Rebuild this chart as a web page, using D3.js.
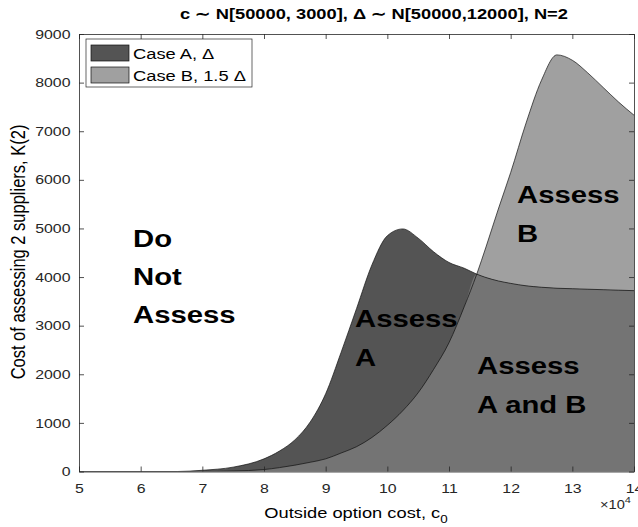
<!DOCTYPE html>
<html>
<head>
<meta charset="utf-8">
<script src="https://cdn.jsdelivr.net/npm/d3@7"></script>
<style>
  body { margin: 0; background: #fff; }
  text { font-family: "Liberation Sans", Arial, Helvetica, sans-serif; }
</style>
</head>
<body>
<div id="chart"></div>
<script>
// outside option cost c0 (common grid for both cases)
const costs = [50000, 60000, 66000, 70000, 75000, 80000, 82500, 85000, 87500, 90000, 92500, 95000, 97500,
               100000, 102500, 105000, 107500, 110000, 112500, 114500, 116000, 118000, 120000,
               122500, 125000, 127500, 130000, 132500, 135000, 137500, 140000];
// K(2) threshold, case A (Delta)
const caseA = [0, 0, 0, 25, 90, 260, 420, 650, 1020, 1600, 2450, 3350, 4250,
               4850, 4990, 4800, 4520, 4300, 4180, 4060, 3990, 3920, 3870,
               3820, 3790, 3770, 3760, 3750, 3740, 3730, 3720];
// K(2) threshold, case B (1.5 Delta)
const caseB = [0, 0, 0, 0, 10, 40, 80, 130, 190, 260, 380, 510, 700,
               950, 1250, 1620, 2100, 2650, 3400, 4060, 4620, 5400, 6150,
               7170, 8050, 8570, 8460, 8200, 7900, 7600, 7330];

const xTicks = [50000, 60000, 70000, 80000, 90000, 100000, 110000, 120000, 130000, 140000];
const yTicks = [0, 1000, 2000, 3000, 4000, 5000, 6000, 7000, 8000, 9000];
const legendLabels = ["Case A, \u0394", "Case B, 1.5 \u0394"];

const W = 638, H = 527;
const SX = 1.22;           // glyphs in the figure are stretched horizontally
const colA = "#545454", colB = "#a0a0a0", colAB = "#747474", axisCol = "#262626";

const svg = d3.select("#chart").append("svg")
    .attr("width", W).attr("height", H);

const x = d3.scaleLinear().domain([50000, 140000]).range([79, 634]);
const y = d3.scaleLinear().domain([0, 9000]).range([471.5, 34]);

const rows = costs.map((c, i) => ({ c, a: caseA[i], b: caseB[i], ab: Math.min(caseA[i], caseB[i]) }));

svg.append("defs").append("clipPath").attr("id", "clip")
    .append("rect").attr("x", x(50000)).attr("y", y(9000))
    .attr("width", x(140000) - x(50000)).attr("height", y(0) - y(9000));

const plot = svg.append("g").attr("clip-path", "url(#clip)");

const area = key => d3.area().x(d => x(d.c)).y0(y(0)).y1(d => y(d[key])).curve(d3.curveMonotoneX);
const line = key => d3.line().x(d => x(d.c)).y(d => y(d[key])).curve(d3.curveMonotoneX);

plot.append("path").datum(rows).attr("d", area("b")).attr("fill", colB);
plot.append("path").datum(rows).attr("d", area("a")).attr("fill", colA);
plot.append("path").datum(rows).attr("d", area("ab")).attr("fill", colAB);
plot.append("path").datum(rows).attr("d", line("a")).attr("fill", "none").attr("stroke", "#111").attr("stroke-width", 0.7);
plot.append("path").datum(rows).attr("d", line("b")).attr("fill", "none").attr("stroke", "#111").attr("stroke-width", 0.7);

// text helper with horizontal stretch
function addText(str, px, py, size, opts = {}) {
    return svg.append("text")
        .attr("transform", `translate(${px},${py}) scale(${SX},1)`)
        .attr("font-size", size)
        .attr("font-weight", opts.bold ? "bold" : "normal")
        .attr("text-anchor", opts.anchor || "start")
        .attr("fill", opts.fill || "#000")
        .text(str);
}

// axes (MATLAB style: box, ticks inward)
const styleAxis = g => {
    g.select(".domain").attr("stroke", axisCol).attr("stroke-width", 0.8);
    g.selectAll(".tick line").attr("stroke", axisCol).attr("stroke-width", 0.8);
    g.selectAll("text").attr("fill", axisCol).attr("font-size", 13)
        .attr("font-family", "'Liberation Sans', Arial, sans-serif");
};

svg.append("g").attr("transform", `translate(0,${y(0)})`)
    .call(d3.axisBottom(x).tickValues(xTicks).tickSizeInner(-5).tickSizeOuter(0).tickPadding(12)
        .tickFormat(d => d / 10000))
    .call(styleAxis)
    .call(g => g.selectAll("text").attr("transform", `scale(${SX},1)`));

svg.append("g").attr("transform", `translate(${x(50000)},0)`)
    .call(d3.axisLeft(y).tickValues(yTicks).tickSizeInner(-5).tickSizeOuter(0).tickPadding(7)
        .tickFormat(d3.format("d")))
    .call(styleAxis)
    .call(g => g.selectAll("text").attr("transform", `scale(${SX},1)`));

svg.append("g").attr("transform", `translate(0,${y(9000)})`)
    .call(d3.axisTop(x).tickValues(xTicks).tickSizeInner(-5).tickSizeOuter(0).tickFormat(""))
    .call(styleAxis);

svg.append("g").attr("transform", `translate(${x(140000)},0)`)
    .call(d3.axisRight(y).tickValues(yTicks).tickSizeInner(-5).tickSizeOuter(0).tickFormat(""))
    .call(styleAxis);

// x10^4 exponent
const expo = addText("\u00d710", 600, 509, 12, { fill: axisCol });
expo.append("tspan").attr("dy", -6).attr("font-size", 9).text("4");

// title
addText("c \u223c N[50000, 3000], \u0394 \u223c N[50000,12000], N=2", 374, 19, 15, { bold: true, anchor: "middle" });

// axis labels
const xl = addText("Outside option cost, c", 356, 518, 15, { anchor: "middle" });
xl.append("tspan").attr("dy", 5).attr("font-size", 11).text("0");

svg.append("text")
    .attr("transform", `translate(25,252) rotate(-90) scale(1,${SX})`)
    .attr("font-size", 16.5).attr("text-anchor", "middle").attr("fill", "#000")
    .text("Cost of assessing 2 suppliers, K(2)");

// legend
const lg = svg.append("g");
lg.append("rect").attr("x", 86).attr("y", 39).attr("width", 166).attr("height", 48)
    .attr("fill", "#fff").attr("stroke", axisCol).attr("stroke-width", 0.7);
[colA, colB].forEach((c, i) => {
    lg.append("rect").attr("x", 91).attr("y", 45 + i * 22).attr("width", 38).attr("height", 16)
        .attr("fill", c).attr("stroke", "#111").attr("stroke-width", 0.7);
    addText(legendLabels[i], 133, 59 + i * 22, 15);
});

// region annotations
const big = 24;
addText("Do", 133, 247, big, { bold: true });
addText("Not", 133, 285, big, { bold: true });
addText("Assess", 133, 323, big, { bold: true });
addText("Assess", 355, 327, big, { bold: true });
addText("A", 355, 366, big, { bold: true });
addText("Assess", 517, 203, big, { bold: true });
addText("B", 517, 242, big, { bold: true });
addText("Assess", 477, 374, big, { bold: true });
addText("A and B", 477, 413, big, { bold: true });
</script>
</body>
</html>
